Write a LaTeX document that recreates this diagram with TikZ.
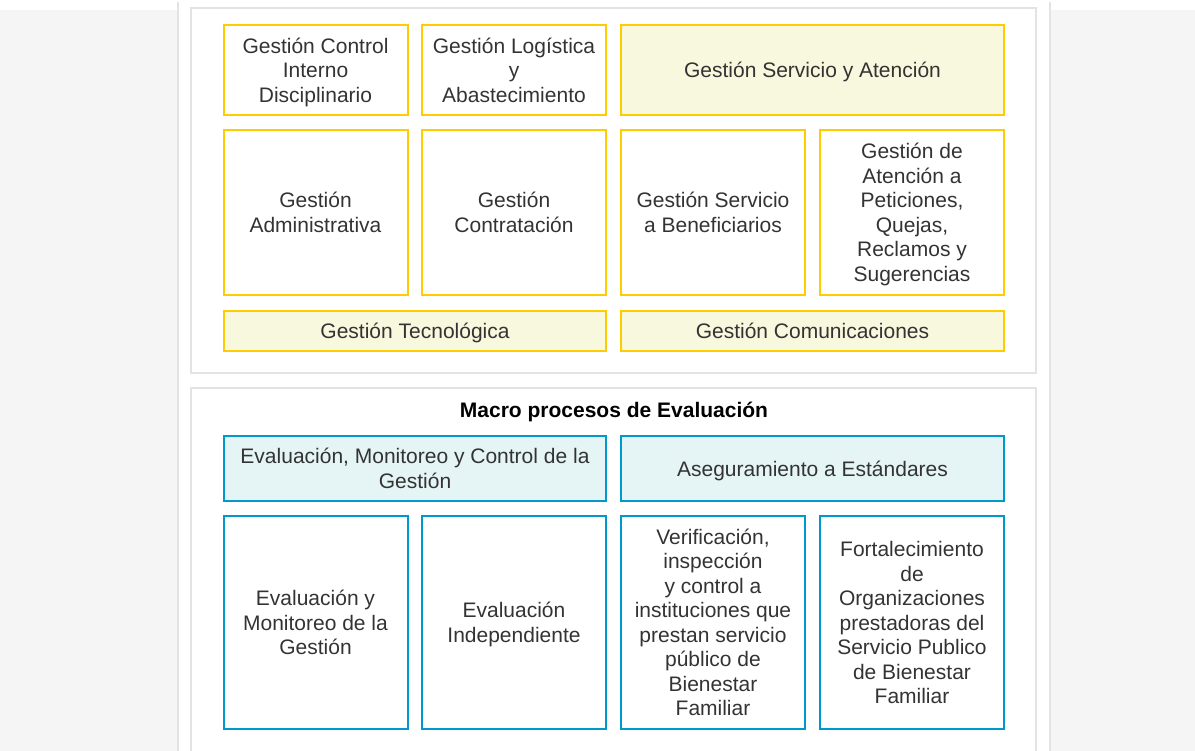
\documentclass[tikz,border=0pt]{standalone}
\usepackage{fontspec}
\setmainfont{Liberation Sans}
\usepackage{tikz}

\definecolor{boxYellow}{HTML}{FFCC00}
\definecolor{fillYellow}{HTML}{F8F8DF}
\definecolor{boxBlue}{HTML}{0099CC}
\definecolor{fillBlue}{HTML}{E5F4F5}
\definecolor{panelGrey}{HTML}{F5F5F5}
\definecolor{lineGrey}{HTML}{E3E3E3}
\definecolor{textGrey}{HTML}{333333}

\begin{document}
\begin{tikzpicture}[x=1pt, y=-1pt]
\tikzset{
    procBox/.style={
                   draw,
                   line width=2pt,
                   align=center,
                   inner sep=0pt,
                   text depth=0pt,
                   text=textGrey,
                   font=\fontsize{21}{24.5}\selectfont
    },
    yellowBox/.style={procBox, draw=boxYellow},
    yellowFill/.style={yellowBox, fill=fillYellow},
    blueBox/.style={procBox, draw=boxBlue},
    blueFill/.style={blueBox, fill=fillBlue},
    frameBox/.style={draw=lineGrey, line width=2pt}
}
    \useasboundingbox (0,0) rectangle (1195,751);

    % side panels
    \fill[panelGrey] (0,10) rectangle (177,751);
    \fill[panelGrey] (1051,10) rectangle (1195,751);
    \draw[lineGrey, line width=2pt] (178,2) -- (178,751);
    \draw[lineGrey, line width=2pt] (1050,2) -- (1050,751);

    % frames
    \draw[frameBox] (191,8) rectangle (1036,373);
    \draw[frameBox] (191,760) -- (191,388) -- (1036,388) -- (1036,760);

    % support processes
    \node (ctrl)[yellowBox, minimum width=184pt, minimum height=90pt] at (315.5,70) {Gestión Control\\Interno\\Disciplinario};
    \node (logi)[yellowBox, minimum width=184pt, minimum height=90pt] at (514,70) {Gestión Logística\\y\\Abastecimiento};
    \node (serv)[yellowFill, minimum width=383pt, minimum height=90pt] at (812.5,70) {Gestión Servicio y Atención};

    \node (admin)[yellowBox, minimum width=184pt, minimum height=165pt] at (315.5,212.5) {Gestión\\Administrativa};
    \node (contr)[yellowBox, minimum width=184pt, minimum height=165pt] at (514,212.5) {Gestión\\Contratación};
    \node (benef)[yellowBox, minimum width=184pt, minimum height=165pt] at (713,212.5) {Gestión Servicio\\a Beneficiarios};
    \node (pqrs)[yellowBox, minimum width=184pt, minimum height=165pt] at (912,212.5) {Gestión de\\Atención a\\Peticiones,\\Quejas,\\Reclamos y\\Sugerencias};

    \node (tecno)[yellowFill, minimum width=382pt, minimum height=40pt] at (415,331) {Gestión Tecnológica};
    \node (comun)[yellowFill, minimum width=383pt, minimum height=40pt] at (812.5,331) {Gestión Comunicaciones};

    % evaluation processes
    \node (title)[text depth=0pt, font=\fontsize{21}{24.5}\selectfont\bfseries] at (614,410) {Macro procesos de Evaluación};

    \node (emc)[blueFill, minimum width=382pt, minimum height=65pt] at (415,468.5) {Evaluación, Monitoreo y Control de la\\Gestión};
    \node (aseg)[blueFill, minimum width=383pt, minimum height=65pt] at (812.5,468.5) {Aseguramiento a Estándares};

    \node (emg)[blueBox, minimum width=184pt, minimum height=213pt] at (315.5,622.5) {Evaluación y\\Monitoreo de la\\Gestión};
    \node (indep)[blueBox, minimum width=184pt, minimum height=213pt] at (514,622.5) {Evaluación\\Independiente};
    \node (verif)[blueBox, minimum width=184pt, minimum height=213pt] at (713,622.5) {Verificación,\\inspección\\y control a\\instituciones que\\prestan servicio\\público de\\Bienestar\\Familiar};
    \node (fort)[blueBox, minimum width=184pt, minimum height=213pt] at (912,622.5) {Fortalecimiento\\de\\Organizaciones\\prestadoras del\\Servicio Publico\\de Bienestar\\Familiar};

\end{tikzpicture}
\end{document}
